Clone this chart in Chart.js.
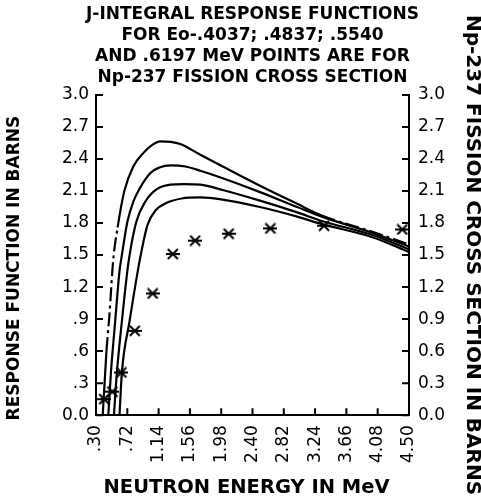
<!DOCTYPE html>
<html>
<head>
<meta charset="utf-8">
<script src="https://cdn.jsdelivr.net/npm/chart.js@4/dist/chart.umd.min.js"></script>
<style>
  html, body { margin: 0; padding: 0; background: #fff; }
  #wrap { width: 481px; height: 501px; }
</style>
</head>
<body>
<div id="wrap"><canvas id="chart" width="481" height="501"></canvas></div>
<script>
// response functions, one energy/value pair of arrays per Eo
var eo4037Energy = [0.39, 0.44, 0.48, 0.53, 0.59, 0.68, 0.80, 0.94, 1.05, 1.16, 1.30, 1.43, 1.70, 2.00, 2.50, 3.00, 3.33, 4.00, 4.50];
var eo4037Resp   = [0.00, 0.60, 0.94, 1.45, 1.76, 2.10, 2.33, 2.46, 2.53, 2.565, 2.56, 2.54, 2.44, 2.33, 2.15, 1.98, 1.87, 1.72, 1.60];

var eo4837Energy = [0.465, 0.50, 0.557, 0.615, 0.647, 0.72, 0.80, 0.89, 1.03, 1.15, 1.30, 1.50, 1.70, 2.00, 2.50, 3.00, 3.33, 4.00, 4.50];
var eo4837Resp   = [0.00, 0.40, 0.88, 1.35, 1.50, 1.81, 2.00, 2.13, 2.27, 2.32, 2.34, 2.33, 2.29, 2.22, 2.09, 1.95, 1.86, 1.71, 1.58];

var eo5540Energy = [0.54, 0.58, 0.647, 0.72, 0.75, 0.84, 0.96, 1.12, 1.30, 1.48, 1.70, 2.00, 2.50, 3.00, 3.33, 4.00, 4.50];
var eo5540Resp   = [0.00, 0.40, 0.88, 1.35, 1.50, 1.81, 2.00, 2.12, 2.16, 2.165, 2.16, 2.11, 2.01, 1.90, 1.82, 1.69, 1.555];

var eo6197Energy = [0.615, 0.647, 0.75, 0.86, 0.90, 0.99, 1.10, 1.25, 1.45, 1.70, 2.00, 2.50, 3.00, 3.33, 4.00, 4.50];
var eo6197Resp   = [0.00, 0.40, 0.88, 1.35, 1.50, 1.78, 1.92, 1.99, 2.03, 2.04, 2.02, 1.95, 1.86, 1.79, 1.67, 1.53];

// Np-237 fission cross section points
var np237Energy = [0.41, 0.52, 0.64, 0.82, 1.06, 1.33, 1.63, 2.08, 2.64, 3.36, 4.41];
var np237Sigma  = [0.15, 0.22, 0.40, 0.79, 1.14, 1.51, 1.635, 1.70, 1.75, 1.775, 1.74];

var titleLines = [
  "J-INTEGRAL RESPONSE FUNCTIONS",
  "FOR Eo-.4037; .4837; .5540",
  "AND .6197 MeV POINTS ARE FOR",
  "Np-237 FISSION CROSS SECTION"
];
var leftTitle = "RESPONSE FUNCTION IN BARNS";
var bottomTitle = "NEUTRON ENERGY IN MeV";

function pairs(xs, ys) {
  return xs.map(function (x, i) { return { x: x, y: ys[i] }; });
}

// asterisk marker: X with a horizontal bar
function asteriskMarker() {
  var c = document.createElement("canvas");
  c.width = 14;
  c.height = 12;
  var g = c.getContext("2d");
  g.strokeStyle = "#000";
  g.lineWidth = 2;
  g.beginPath();
  g.moveTo(0, 6); g.lineTo(14, 6);
  g.moveTo(2, 1); g.lineTo(12, 11);
  g.moveTo(2, 11); g.lineTo(12, 1);
  g.stroke();
  return c;
}

var font = "'DejaVu Sans', Verdana, sans-serif";
var tickFont = { family: font, size: 17 };

// inside tick marks, and the titles that sit off-centre in the original
var frameExtras = {
  id: "frameExtras",
  afterDraw: function (chart) {
    var ctx = chart.ctx;
    var area = chart.chartArea;
    var midX = (area.left + area.right) / 2;
    var midY = (area.top + area.bottom) / 2;
    var len = 7;
    ctx.save();
    ctx.strokeStyle = "#000";
    ctx.lineWidth = 2;
    ctx.beginPath();
    chart.scales.x.ticks.forEach(function (t) {
      var px = chart.scales.x.getPixelForValue(t.value);
      ctx.moveTo(px, area.bottom);
      ctx.lineTo(px, area.bottom - len);
    });
    chart.scales.y.ticks.forEach(function (t) {
      var py = chart.scales.y.getPixelForValue(t.value);
      ctx.moveTo(area.left, py);
      ctx.lineTo(area.left + len, py);
    });
    chart.scales.y2.ticks.forEach(function (t) {
      var py = chart.scales.y2.getPixelForValue(t.value);
      ctx.moveTo(area.right, py);
      ctx.lineTo(area.right - len, py);
    });
    ctx.stroke();

    ctx.fillStyle = "#000";
    ctx.textAlign = "center";
    ctx.textBaseline = "middle";

    ctx.font = "bold 17px " + font;
    titleLines.forEach(function (line, i) {
      ctx.fillText(line, midX, 15 + i * 20.7);
    });

    ctx.font = "bold 19.5px " + font;
    ctx.fillText(bottomTitle, midX - 6, 488);

    ctx.translate(15, midY + 13);
    ctx.rotate(-Math.PI / 2);
    ctx.font = "bold 17px " + font;
    ctx.fillText(leftTitle, 0, 0);
    ctx.restore();
  }
};

function curve(label, xs, ys, dashed) {
  var ds = {
    type: "line",
    label: label,
    data: pairs(xs, ys),
    borderColor: "#000",
    borderWidth: 2.2,
    pointRadius: 0,
    fill: false,
    cubicInterpolationMode: "monotone",
    yAxisID: "y"
  };
  if (dashed) {
    ds.segment = {
      borderDash: function (ctx) {
        var y0 = ctx.p0.parsed.y, y1 = ctx.p1.parsed.y;
        return (y0 >= 0.55 && y1 <= 1.76) ? [14, 4, 3, 4] : undefined;
      }
    };
  }
  return ds;
}

new Chart(document.getElementById("chart"), {
  type: "scatter",
  data: {
    datasets: [
      curve("Eo .4037", eo4037Energy, eo4037Resp, true),
      curve("Eo .4837", eo4837Energy, eo4837Resp, false),
      curve("Eo .5540", eo5540Energy, eo5540Resp, false),
      curve("Eo .6197", eo6197Energy, eo6197Resp, false),
      {
        label: "Np-237",
        data: pairs(np237Energy, np237Sigma),
        pointStyle: asteriskMarker(),
        pointRadius: 6,
        showLine: false,
        yAxisID: "y2"
      }
    ]
  },
  options: {
    responsive: false,
    animation: false,
    layout: { padding: { left: 55, right: 0, top: 95, bottom: 28 } },
    plugins: {
      legend: { display: false },
      tooltip: { enabled: false },
      title: { display: false }
    },
    scales: {
      x: {
        type: "linear",
        min: 0.3,
        max: 4.5,
        grid: { display: false, drawTicks: false },
        border: { color: "#000", width: 2 },
        ticks: {
          stepSize: 0.42,
          autoSkip: false,
          maxRotation: 90,
          minRotation: 90,
          padding: 10,
          color: "#000",
          font: tickFont,
          callback: function (v) {
            var s = Number(v).toFixed(2);
            return s.indexOf("0.") === 0 ? s.slice(1) : s;
          }
        }
      },
      y: {
        type: "linear",
        position: "left",
        min: 0,
        max: 3,
        grid: { display: false, drawTicks: false },
        border: { color: "#000", width: 2 },
        ticks: {
          stepSize: 0.3,
          padding: 7,
          color: "#000",
          font: tickFont,
          callback: function (v) {
            var s = Number(v).toFixed(1);
            return (v > 0 && v < 1) ? s.slice(1) : s;
          }
        }
      },
      y2: {
        type: "linear",
        position: "right",
        min: 0,
        max: 3,
        grid: { display: false, drawTicks: false },
        border: { color: "#000", width: 2 },
        ticks: {
          stepSize: 0.3,
          padding: 9,
          color: "#000",
          font: tickFont,
          callback: function (v) { return Number(v).toFixed(1); }
        },
        title: {
          display: true,
          text: "Np-237 FISSION CROSS SECTION IN BARNS",
          color: "#000",
          font: { family: font, size: 20, weight: "bold", lineHeight: 0.9 },
          padding: { top: 0, bottom: 9 }
        }
      }
    }
  },
  plugins: [frameExtras]
});
</script>
</body>
</html>
